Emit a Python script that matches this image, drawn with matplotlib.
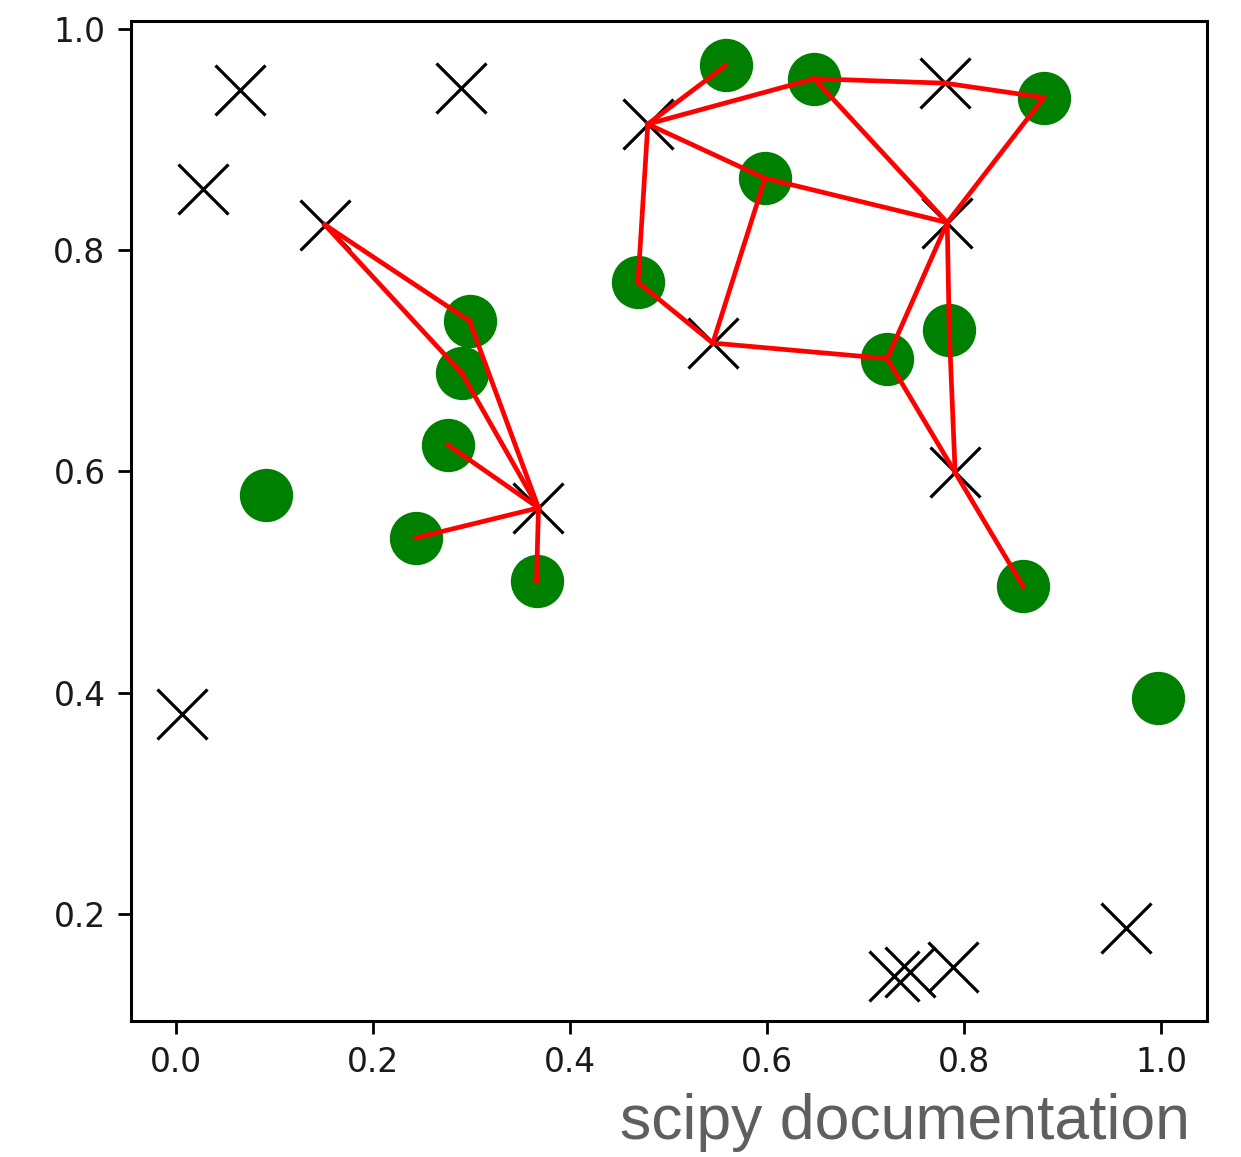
"""Recreation of the scipy cKDTree.query_ball_tree example plot."""

import matplotlib

matplotlib.use("Agg")
import matplotlib.pyplot as plt

# points1: black crosses
cross_x = [0.065, 0.289, 0.027, 0.151, 0.479, 0.781, 0.783, 0.545,
           0.368, 0.791, 0.006, 0.964, 0.729, 0.745, 0.789]
cross_y = [0.945, 0.947, 0.855, 0.823, 0.914, 0.951, 0.825, 0.716,
           0.567, 0.599, 0.381, 0.187, 0.144, 0.147, 0.152]

# points2: green circles
dot_x = [0.558, 0.648, 0.881, 0.598, 0.469, 0.298, 0.290, 0.276,
         0.091, 0.244, 0.366, 0.722, 0.785, 0.860, 0.997]
dot_y = [0.967, 0.955, 0.938, 0.865, 0.771, 0.736, 0.689, 0.624,
         0.579, 0.540, 0.501, 0.702, 0.728, 0.496, 0.395]

# pairs (cross index, dot index) within the query radius
pairs = [
    (3, 5), (3, 6),
    (4, 0), (4, 1), (4, 3), (4, 4),
    (5, 1), (5, 2),
    (6, 1), (6, 2), (6, 3), (6, 11), (6, 12),
    (7, 3), (7, 4), (7, 11),
    (8, 5), (8, 6), (8, 7), (8, 9), (8, 10),
    (9, 11), (9, 12), (9, 13),
]

x_ticks = [0.0, 0.2, 0.4, 0.6, 0.8, 1.0]
y_ticks = [0.2, 0.4, 0.6, 0.8, 1.0]

W, H = 1241, 1157
fig = plt.figure(figsize=(W / 100, H / 100), dpi=100)
ax = fig.add_axes([130.7 / W, 1 - 1020.7 / H, (1206.7 - 130.7) / W, (1020.7 - 20.7) / H])

ax.plot(cross_x, cross_y, "xk", markersize=36, markeredgewidth=2.3)
ax.plot(dot_x, dot_y, "og", markersize=36, markeredgewidth=2.4)
for i, j in pairs:
    ax.plot([cross_x[i], dot_x[j]], [cross_y[i], dot_y[j]], "-r", linewidth=3.4)

ax.set_xlim(-0.046, 1.0464)
ax.set_ylim(0.1033, 1.0075)
ax.set_xticks(x_ticks)
ax.set_yticks(y_ticks)
ax.set_xticklabels([f"{v:.1f}" for v in x_ticks])
ax.set_yticklabels([f"{v:.1f}" for v in y_ticks])
ax.tick_params(labelsize=23.7, length=9.6, width=2.0, pad=8.5, labelcolor="#1a1a1a")
for spine in ax.spines.values():
    spine.set_linewidth(2.2)

fig.text(1190 / W, 1 - 1139 / H, "scipy documentation", family="Liberation Sans",
         fontsize=45, color="#5f5f5f", ha="right", va="baseline")

fig.savefig("out.png", dpi=100)
